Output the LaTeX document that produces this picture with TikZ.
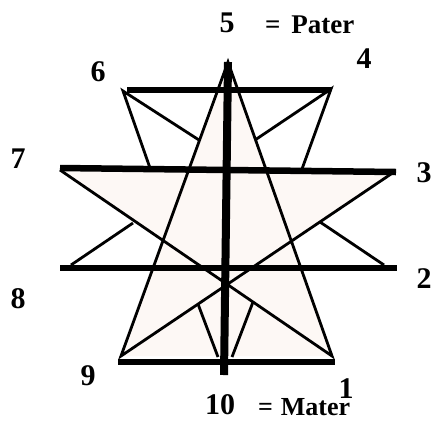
\documentclass[tikz,border=0pt]{standalone}
\usepackage{fontspec}
\setmainfont{Liberation Serif}
\usepackage{tikz}

\definecolor{starpink}{RGB}{253,248,245}

\begin{document}
\begin{tikzpicture}[
    x=1pt, y=-1pt,
    starline/.style={line width=2.8pt, line join=miter},
    bar/.style={line width=6.5pt},
    pole/.style={line width=8pt},
    num/.style={font=\bfseries\fontsize{30}{32}\selectfont, inner sep=0pt},
    word/.style={font=\bfseries\fontsize{27}{30}\selectfont, inner sep=0pt, anchor=base west}
]
\useasboundingbox (0,0) rectangle (435,421);

% outer points of the star
\coordinate (p5) at (228,62);
\coordinate (p6) at (123,91);
\coordinate (p4) at (331,89);
\coordinate (p7) at (60,170);
\coordinate (p3) at (394,172);
\coordinate (p8) at (71,265);
\coordinate (p2) at (384,265);
\coordinate (p9) at (121,356);
\coordinate (p1) at (332,356);
\coordinate (p10a) at (218,357);
\coordinate (p10b) at (232,357);

% inner ends of the short strokes
\coordinate (mid) at (intersection of p7--p1 and p3--p9);
\coordinate (a6) at (199,140);
\coordinate (b6) at (150,168);
\coordinate (a4) at (255,140);
\coordinate (b4) at (302,169);
\coordinate (a8) at (133,223);
\coordinate (a2) at (320,222);
\coordinate (a10) at (198,304);
\coordinate (b10) at (253,302);

% ends of the thick bars
\coordinate (top1) at (127,90);
\coordinate (top2) at (331,90);
\coordinate (up1) at (60,168);
\coordinate (up2) at (396,172);
\coordinate (low1) at (60,268);
\coordinate (low2) at (397,268);
\coordinate (bot1) at (118,362);
\coordinate (bot2) at (335,362);
\coordinate (pole1) at (228,62);
\coordinate (pole2) at (224,375);

\fill[starpink] (p5) -- (p9) -- (p1) -- cycle;
\fill[starpink] (p7) -- (p3) -- (mid) -- cycle;

\draw[starline] (p7) -- (p1) -- (p5) -- (p9) -- (p3);
\draw[starline] (a6) -- (p6) -- (b6);
\draw[starline] (a4) -- (p4) -- (b4);
\draw[starline] (p8) -- (a8);
\draw[starline] (p2) -- (a2);
\draw[starline] (a10) -- (p10a);
\draw[starline] (b10) -- (p10b);

\draw[bar] (top1) -- (top2);
\draw[bar] (up1) -- (up2);
\draw[bar] (low1) -- (low2);
\draw[bar] (bot1) -- (bot2);
\draw[pole] (pole1) -- (pole2);

% labels
\node[num] (n5) at (227,23) {5};
\node[word] (pater) at (265,33) {=\hspace{0.4em}Pater};
\node[num] (n4) at (364,59) {4};
\node[num] (n6) at (98,72) {6};
\node[num] (n7) at (18,159) {7};
\node[num] (n3) at (424,173) {3};
\node[num] (n8) at (18,299) {8};
\node[num] (n2) at (424,279) {2};
\node[num] (n9) at (88,376) {9};
\node[num] (n1) at (346,389) {1};
\node[num] (n10) at (220,405) {10};
\node[word, font=\bfseries\fontsize{26}{28}\selectfont] (mater) at (258,415) {=\hspace{0.3em}Mater};
\end{tikzpicture}
\end{document}
